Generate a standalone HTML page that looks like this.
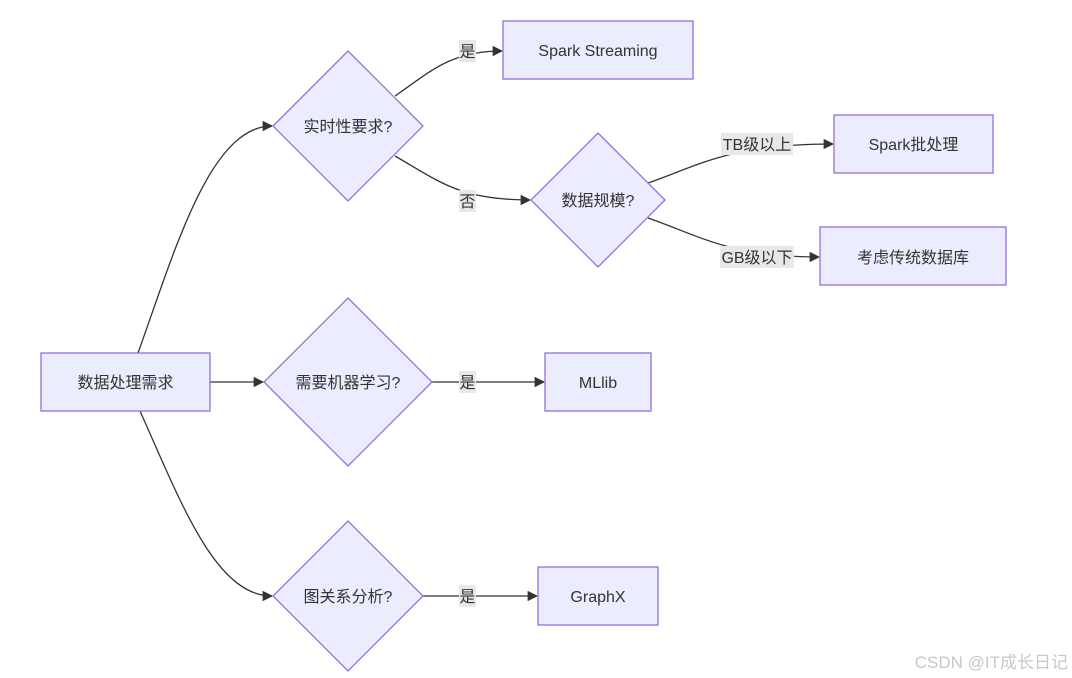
<!DOCTYPE html>
<html><head><meta charset="utf-8"><style>
html,body{margin:0;padding:0;background:#fff;}
svg{display:block;}
text{font-family:"Liberation Sans","Noto Sans CJK SC",sans-serif;font-size:16px;fill:#333;}
.n{fill:#ECECFF;stroke:#9370DB;stroke-width:1.3;}
.e{fill:none;stroke:#333;stroke-width:1.3;}
.lb{fill:#e8e8e8;}
</style></head><body>
<svg width="1072" height="678" viewBox="0 0 1072 678" xmlns="http://www.w3.org/2000/svg">
<defs><marker id="a" viewBox="0 0 10 10" refX="9" refY="5" markerWidth="8" markerHeight="8" orient="auto"><path d="M0,0L10,5L0,10z" fill="#333"/></marker></defs>
<path class="e" d="M138,353 C175,250 210,126 272,126" marker-end="url(#a)"/>
<path class="e" d="M210,382 L263,382" marker-end="url(#a)"/>
<path class="e" d="M140,411 C180,500 215,596 272,596" marker-end="url(#a)"/>
<path class="e" d="M395,96 C430,72 450,51 502,51" marker-end="url(#a)"/>
<path class="e" d="M395,156 C440,182 460,200 530,200" marker-end="url(#a)"/>
<path class="e" d="M648,183 C700,165 730,144 833,144" marker-end="url(#a)"/>
<path class="e" d="M648,218 C700,236 730,257 819,257" marker-end="url(#a)"/>
<path class="e" d="M432,382 L544,382" marker-end="url(#a)"/>
<path class="e" d="M423,596 L537,596" marker-end="url(#a)"/>
<rect class="lb" x="459" y="40" width="17" height="22"/><text x="467.5" y="57" text-anchor="middle">是</text>
<rect class="lb" x="459" y="190" width="17" height="22"/><text x="467.5" y="207" text-anchor="middle">否</text>
<rect class="lb" x="721" y="133" width="72" height="22"/><text x="757" y="150" text-anchor="middle">TB级以上</text>
<rect class="lb" x="720" y="246" width="74" height="22"/><text x="757" y="263" text-anchor="middle">GB级以下</text>
<rect class="lb" x="459" y="371" width="17" height="22"/><text x="467.5" y="388" text-anchor="middle">是</text>
<rect class="lb" x="459" y="585" width="17" height="22"/><text x="467.5" y="602" text-anchor="middle">是</text>
<rect class="n" x="41" y="353" width="169" height="58"/><text x="125.5" y="388" text-anchor="middle">数据处理需求</text>
<polygon class="n" points="348,51 423,126 348,201 273,126"/><text x="348" y="132" text-anchor="middle">实时性要求?</text>
<polygon class="n" points="598,133 665,200 598,267 531,200"/><text x="598" y="206" text-anchor="middle">数据规模?</text>
<polygon class="n" points="348,298 432,382 348,466 264,382"/><text x="348" y="388" text-anchor="middle">需要机器学习?</text>
<polygon class="n" points="348,521 423,596 348,671 273,596"/><text x="348" y="602" text-anchor="middle">图关系分析?</text>
<rect class="n" x="503" y="21" width="190" height="58"/><text x="598" y="56" text-anchor="middle">Spark Streaming</text>
<rect class="n" x="834" y="115" width="159" height="58"/><text x="913.5" y="150" text-anchor="middle">Spark批处理</text>
<rect class="n" x="820" y="227" width="186" height="58"/><text x="913" y="263" text-anchor="middle">考虑传统数据库</text>
<rect class="n" x="545" y="353" width="106" height="58"/><text x="598" y="388" text-anchor="middle">MLlib</text>
<rect class="n" x="538" y="567" width="120" height="58"/><text x="598" y="602" text-anchor="middle">GraphX</text>
<text x="1068" y="668" text-anchor="end" style="fill:#c8c8c8;font-size:17px;">CSDN @IT成长日记</text>
</svg>
</body></html>
